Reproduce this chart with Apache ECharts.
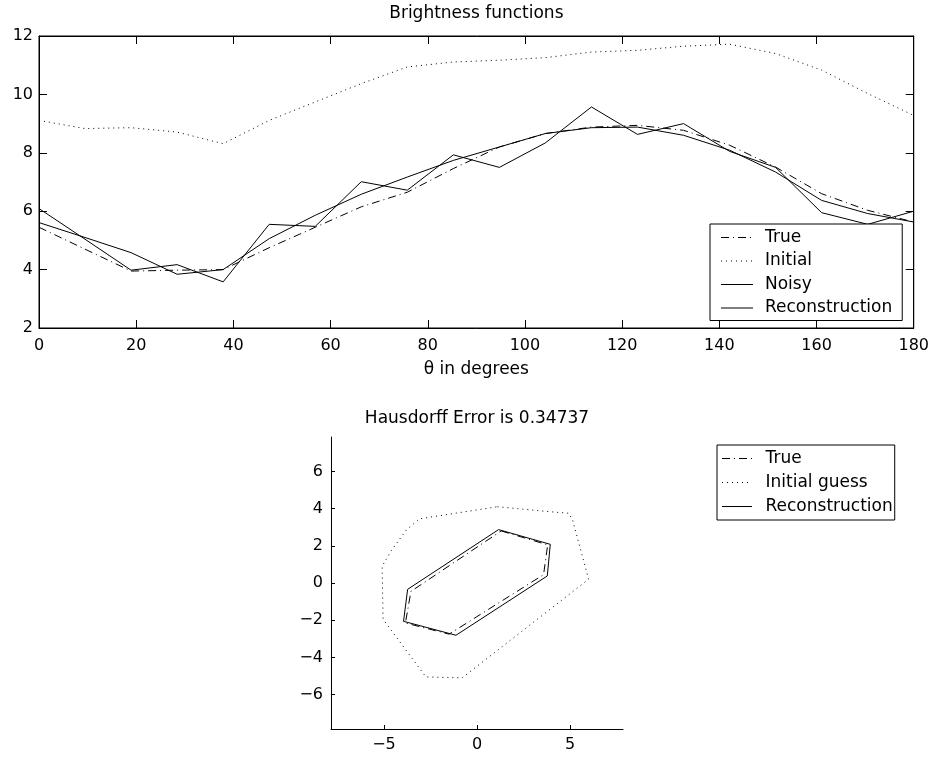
<!DOCTYPE html>
<html>
<head>
<meta charset="utf-8">
<title>Brightness functions</title>
<script src="https://cdn.jsdelivr.net/npm/echarts@6/dist/echarts.min.js"></script>
<style>
  html, body { margin: 0; padding: 0; background: #fff; }
  #chart { width: 932px; height: 759px; }
</style>
</head>
<body>
<div id="chart"></div>
<script>
// brightness functions, sampled at 20 angles
const theta = [0, 9.47, 18.95, 28.42, 37.89, 47.37, 56.84, 66.32, 75.79, 85.26,
  94.74, 104.21, 113.68, 123.16, 132.63, 142.11, 151.58, 161.05, 170.53, 180];
const trueVals = [5.45, 4.7, 3.95, 3.98, 4.0, 4.75, 5.45, 6.15, 6.65, 7.46,
  8.2, 8.66, 8.88, 8.94, 8.77, 8.26, 7.51, 6.6, 6.03, 5.63];
const initialVals = [9.11, 8.83, 8.86, 8.71, 8.31, 9.11, 9.74, 10.37, 10.94, 11.11,
  11.17, 11.26, 11.45, 11.51, 11.65, 11.72, 11.4, 10.83, 10.03, 9.28];
const noisyVals = [6.09, 5.04, 3.98, 4.17, 3.58, 5.55, 5.48, 7.01, 6.72, 7.93,
  7.5, 8.34, 9.57, 8.63, 9.0, 8.05, 7.5, 5.95, 5.55, 6.0];
const reconVals = [5.61, 5.1, 4.58, 3.84, 4.0, 5.06, 5.86, 6.58, 7.17, 7.74,
  8.2, 8.66, 8.86, 8.88, 8.6, 8.09, 7.34, 6.37, 5.92, 5.63];

// shapes (closed polygons)
const trueShapeX = [1.3, 3.8, 3.58, -1.5, -3.85, -3.55, 1.3];
const trueShapeY = [2.8, 2.05, 0.45, -2.75, -2.15, -0.45, 2.8];
const initShapeX = [1.1, 3.94, 4.95, 5.15, 6.0, -0.8, -2.75, -5.05, -5.1, -4.6, -3.8, -3.1, 1.1];
const initShapeY = [4.1, 3.83, 3.75, 3.35, 0.2, -5.1, -5.05, -1.95, 0.9, 1.75, 2.85, 3.45, 4.1];
const reconShapeX = [1.16, 3.94, 3.78, -1.13, -3.95, -3.73, 1.16];
const reconShapeY = [2.87, 2.08, 0.38, -2.81, -2.06, -0.34, 2.87];

const shapeXTicks = [-5, 0, 5];
const shapeYTicks = [-6, -4, -2, 0, 2, 4, 6];

const FONT = 'DejaVu Sans';
const dashDot = [8, 4, 1, 4];
const dotted = [1, 4];

function pairs(xs, ys) {
  return xs.map((x, i) => [x, ys[i]]);
}
function minus(v) {
  return String(v).replace('-', '\u2212');
}

const chart = echarts.init(document.getElementById('chart'));

const axisLine = { show: true, onZero: false, lineStyle: { color: '#000', width: 1 } };
const label = { color: '#000', fontFamily: FONT, fontSize: 16 };
const legendBase = {
  orient: 'vertical',
  borderColor: '#000', borderWidth: 1, backgroundColor: '#fff',
  selectedMode: false,
  itemStyle: { opacity: 0 },
  lineStyle: { width: 1 }
};

const option = {
  animation: false,
  backgroundColor: '#fff',
  grid: [
    { left: 39, top: 36, width: 875, height: 292, show: true, borderColor: '#000', borderWidth: 1 },
    { left: 331, top: 437, width: 292, height: 292 }
  ],
  legend: [
    {
      ...legendBase,
      data: ['True', 'Initial', 'Noisy', 'Reconstruction'],
      left: 710, top: 224,
      padding: [5, 10, 4, 10.5],
      itemWidth: 32, itemHeight: 16, itemGap: 6.5,
      textStyle: { color: '#000', fontFamily: FONT, fontSize: 17, lineHeight: 16, padding: [0, 0, 0, 7] }
    },
    {
      ...legendBase,
      data: ['True', 'Initial guess', 'Reconstruction'],
      left: 717, top: 445,
      padding: [5, 2, 5, 4.5],
      itemWidth: 30, itemHeight: 16, itemGap: 7,
      textStyle: { color: '#000', fontFamily: FONT, fontSize: 17, lineHeight: 16, padding: [0, 0, 0, 8.5] }
    }
  ],
  xAxis: [
    {
      gridIndex: 0, type: 'value', min: 0, max: 180, interval: 20, position: 'bottom',
      axisLine, axisTick: { inside: true, length: 8, lineStyle: { color: '#000' } },
      axisLabel: { ...label, margin: 10 }, splitLine: { show: false },
      name: '\u03b8 in degrees', nameLocation: 'middle', nameGap: 33,
      nameTextStyle: { color: '#000', fontFamily: FONT, fontSize: 17 }
    },
    {
      gridIndex: 0, type: 'value', min: 0, max: 180, interval: 20, position: 'top',
      axisLine, axisTick: { inside: true, length: 8, lineStyle: { color: '#000' } },
      axisLabel: { show: false }, splitLine: { show: false },
      name: 'Brightness functions', nameLocation: 'middle', nameGap: 14,
      nameTextStyle: { color: '#000', fontFamily: FONT, fontSize: 17 }
    },
    {
      gridIndex: 1, type: 'value', min: -7.85, max: 7.85, position: 'bottom',
      axisLine,
      axisTick: { inside: true, length: 4, customValues: shapeXTicks, lineStyle: { color: '#000' } },
      axisLabel: { ...label, margin: 8, customValues: shapeXTicks, formatter: minus },
      splitLine: { show: false }
    },
    {
      gridIndex: 1, type: 'value', min: -7.85, max: 7.85, position: 'top',
      axisLine: { show: false }, axisTick: { show: false }, axisLabel: { show: false },
      splitLine: { show: false },
      name: 'Hausdorff Error is 0.34737', nameLocation: 'middle', nameGap: 10,
      nameTextStyle: { color: '#000', fontFamily: FONT, fontSize: 17 }
    }
  ],
  yAxis: [
    {
      gridIndex: 0, type: 'value', min: 2, max: 12, interval: 2, position: 'left',
      axisLine, axisTick: { inside: true, length: 8, lineStyle: { color: '#000' } },
      axisLabel: { ...label, margin: 6 }, splitLine: { show: false }
    },
    {
      gridIndex: 0, type: 'value', min: 2, max: 12, interval: 2, position: 'right',
      axisLine, axisTick: { inside: true, length: 8, lineStyle: { color: '#000' } },
      axisLabel: { show: false }, splitLine: { show: false }
    },
    {
      gridIndex: 1, type: 'value', min: -7.85, max: 7.85, position: 'left',
      axisLine,
      axisTick: { inside: true, length: 4, customValues: shapeYTicks, lineStyle: { color: '#000' } },
      axisLabel: { ...label, margin: 8, customValues: shapeYTicks, formatter: minus },
      splitLine: { show: false }
    }
  ],
  series: [
    {
      name: 'True', type: 'line', xAxisIndex: 0, yAxisIndex: 0, symbol: 'none',
      itemStyle: { color: '#000' },
      data: pairs(theta, trueVals), lineStyle: { color: '#000', width: 1, type: dashDot }
    },
    {
      name: 'Initial', type: 'line', xAxisIndex: 0, yAxisIndex: 0, symbol: 'none',
      itemStyle: { color: '#000' },
      data: pairs(theta, initialVals), lineStyle: { color: '#000', width: 1, type: dotted }
    },
    {
      name: 'Noisy', type: 'line', xAxisIndex: 0, yAxisIndex: 0, symbol: 'none',
      itemStyle: { color: '#000' },
      data: pairs(theta, noisyVals), lineStyle: { color: '#000', width: 1 }
    },
    {
      name: 'Reconstruction', type: 'line', xAxisIndex: 0, yAxisIndex: 0, symbol: 'none',
      itemStyle: { color: '#000' },
      data: pairs(theta, reconVals), lineStyle: { color: '#000', width: 1 }
    },
    {
      name: 'True', type: 'line', xAxisIndex: 2, yAxisIndex: 2, symbol: 'none',
      itemStyle: { color: '#000' },
      data: pairs(trueShapeX, trueShapeY), lineStyle: { color: '#000', width: 1, type: dashDot }
    },
    {
      name: 'Initial guess', type: 'line', xAxisIndex: 2, yAxisIndex: 2, symbol: 'none',
      itemStyle: { color: '#000' },
      data: pairs(initShapeX, initShapeY), lineStyle: { color: '#000', width: 1, type: dotted }
    },
    {
      name: 'Reconstruction', type: 'line', xAxisIndex: 2, yAxisIndex: 2, symbol: 'none',
      itemStyle: { color: '#000' },
      data: pairs(reconShapeX, reconShapeY), lineStyle: { color: '#000', width: 1 }
    }
  ]
};

chart.setOption(option);
</script>
</body>
</html>
